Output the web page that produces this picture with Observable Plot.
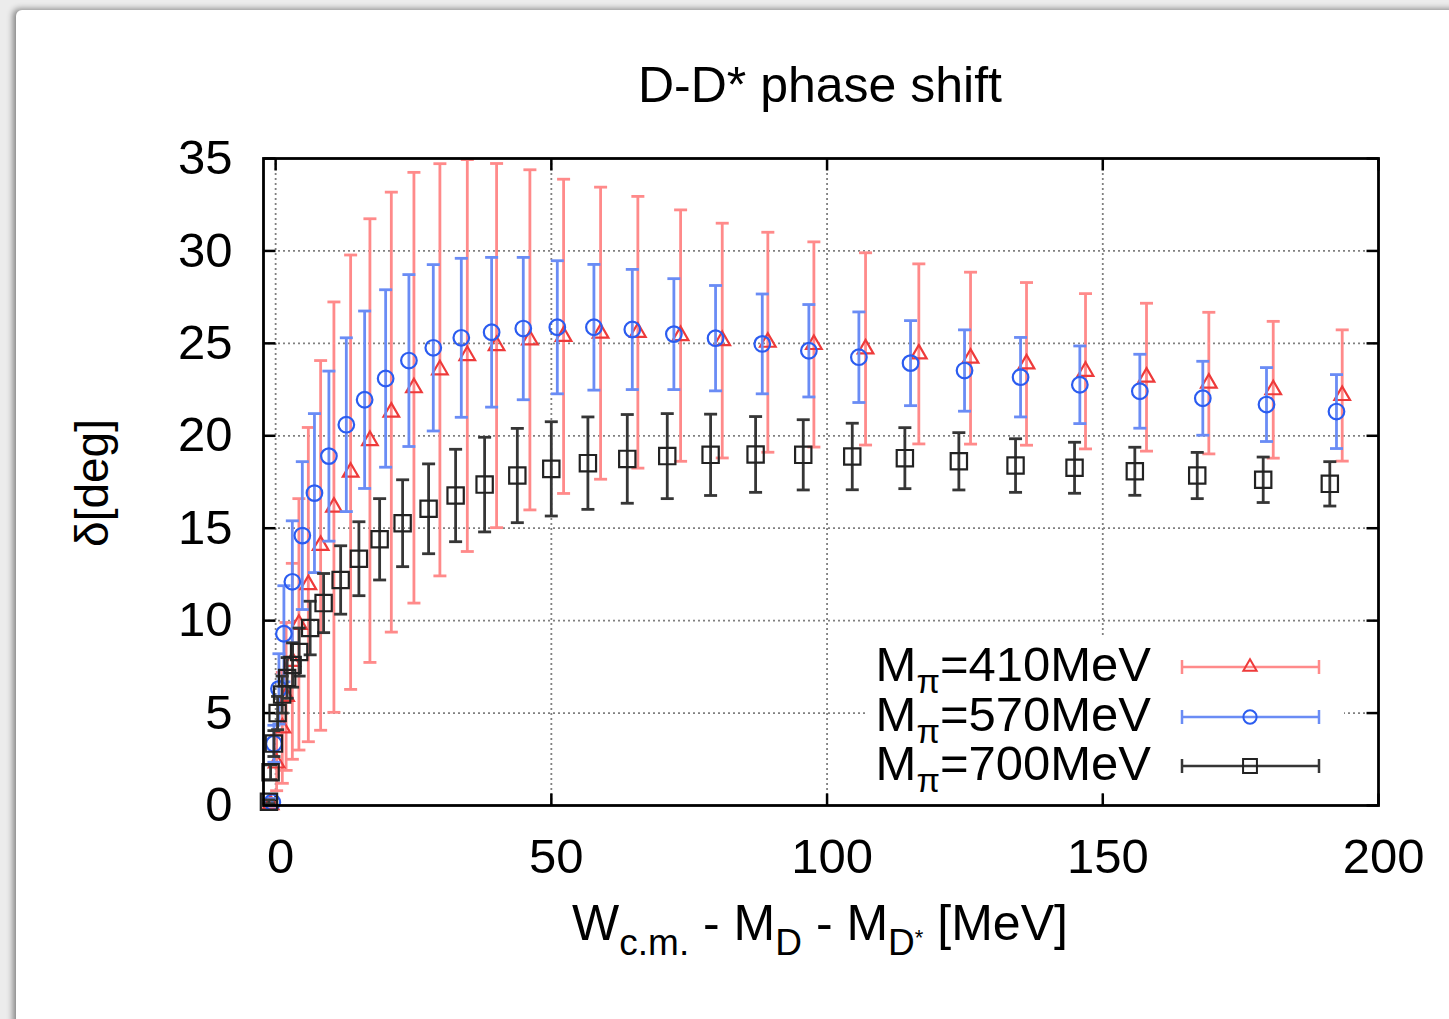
<!DOCTYPE html>
<html><head><meta charset="utf-8">
<script src="https://cdn.jsdelivr.net/npm/d3@7"></script>
<script src="https://cdn.jsdelivr.net/npm/@observablehq/plot@0.6"></script>
<style>
html,body{margin:0;padding:0;}
body{width:1449px;height:1019px;background:#ececec;position:relative;overflow:hidden;font-family:"Liberation Sans",Arial,Helvetica,sans-serif;}
#panel{position:absolute;left:16px;top:10px;width:1450px;height:1030px;background:#fff;border-top-left-radius:6px;box-shadow:-3px -1px 6px rgba(0,0,0,0.45);}
#chart{position:absolute;left:0;top:0;}
</style></head><body>
<div id="panel"></div>
<div id="chart"></div>
<script>
// ---- data ----
const xTicks = [0, 50, 100, 150, 200];
const yTicks = [0, 5, 10, 15, 20, 25, 30, 35];
const seriesNames = ["410", "570", "700"];

// M_pi = 410 MeV (red triangles)
const x410 = [-0.91, 0.18, 1.21, 1.90, 3.03, 4.22, 5.93, 8.16, 10.57, 13.60, 17.10, 20.98, 25.08, 29.79, 34.76, 40.07, 46.11, 52.22, 58.93, 65.69, 73.44, 80.99, 89.26, 97.61, 106.98, 116.64, 126.02, 136.17, 146.87, 157.93, 169.23, 180.91, 193.42];
const d410 = [0.05, 2.3, 4.2, 5.9, 7.8, 9.8, 11.95, 14.07, 16.14, 18.03, 19.74, 21.28, 22.6, 23.57, 24.34, 24.88, 25.19, 25.38, 25.55, 25.6, 25.42, 25.15, 25.06, 24.94, 24.7, 24.43, 24.2, 23.89, 23.49, 23.17, 22.85, 22.49, 22.18];
const e410 = [0.1, 1.5, 3.0, 4.0, 5.3, 6.8, 8.5, 10.0, 11.1, 11.75, 12.0, 11.9, 11.65, 11.15, 10.6, 9.85, 9.2, 8.5, 7.9, 7.35, 6.8, 6.35, 5.95, 5.55, 5.2, 4.87, 4.65, 4.4, 4.2, 4.0, 3.83, 3.7, 3.55];

// M_pi = 570 MeV (blue circles)
const x570 = [-0.60, -0.31, 0.60, 1.50, 3.03, 4.84, 7.04, 9.66, 12.82, 16.14, 19.95, 24.17, 28.59, 33.67, 39.17, 44.91, 51.08, 57.72, 64.68, 72.22, 79.78, 88.25, 96.70, 105.77, 115.14, 124.93, 135.09, 145.84, 156.72, 168.14, 179.69, 192.38];
const d570 = [0.18, 3.34, 6.31, 9.29, 12.1, 14.6, 16.9, 18.9, 20.6, 21.95, 23.1, 24.07, 24.76, 25.3, 25.6, 25.8, 25.87, 25.87, 25.75, 25.5, 25.28, 24.97, 24.6, 24.25, 23.93, 23.53, 23.17, 22.76, 22.41, 22.03, 21.69, 21.31];
const e570 = [0.2, 1.0, 1.9, 2.6, 3.3, 4.0, 4.3, 4.6, 4.7, 4.8, 4.8, 4.65, 4.5, 4.3, 4.05, 3.85, 3.6, 3.4, 3.25, 3.0, 2.85, 2.7, 2.5, 2.45, 2.3, 2.2, 2.15, 2.1, 2.0, 2.0, 2.0, 2.0];

// M_pi = 700 MeV (black squares)
const x700 = [-1.21, -0.91, -0.31, 0.36, 1.18, 2.09, 3.08, 4.26, 6.26, 8.70, 11.79, 15.10, 18.86, 23.03, 27.74, 32.64, 37.90, 43.83, 49.99, 56.63, 63.77, 71.02, 78.88, 87.04, 95.68, 104.57, 114.11, 123.90, 134.18, 144.88, 155.81, 167.13, 179.09, 191.17];
const d700 = [0.2, 1.8, 3.35, 5.0, 6.0, 6.9, 7.6, 8.3, 9.6, 10.95, 12.2, 13.35, 14.4, 15.27, 16.05, 16.77, 17.36, 17.85, 18.21, 18.52, 18.75, 18.9, 18.97, 18.99, 18.97, 18.88, 18.79, 18.62, 18.39, 18.27, 18.08, 17.85, 17.62, 17.4];
const e700 = [0.1, 0.4, 0.7, 0.9, 1.0, 1.1, 1.2, 1.3, 1.45, 1.6, 1.85, 2.0, 2.2, 2.35, 2.43, 2.5, 2.56, 2.55, 2.55, 2.5, 2.4, 2.3, 2.2, 2.05, 1.9, 1.8, 1.65, 1.55, 1.45, 1.38, 1.3, 1.25, 1.23, 1.2];

// ---- build rows ----
const rows = (xs, ys, es) => xs.map((x, i) => ({x, y: ys[i], lo: ys[i] - es[i], hi: ys[i] + es[i]}));
const r410 = rows(x410, d410, e410);
const r570 = rows(x570, d570, e570);
const r700 = rows(x700, d700, e700);

const styleOf = {
  "410": {bar: "#ff8a8a", mk: "#ee3a3a", symbol: "triangle", r: 5.8},
  "570": {bar: "#6a8cf5", mk: "#2b5cf0", symbol: "circle", r: 7.8},
  "700": {bar: "#363636", mk: "#222222", symbol: "square", r: 9.2}
};

const seg = (dx, dy) => ({draw(ctx) { ctx.moveTo(0, 0); ctx.lineTo(dx, dy); }});
const cap = {draw(ctx) { ctx.moveTo(-6.5, 0); ctx.lineTo(6.5, 0); }};

function errMarks(data, key) {
  const s = styleOf[key];
  return [
    Plot.ruleX(data, {x: "x", y1: "lo", y2: "hi", stroke: s.bar, strokeWidth: 2.8}),
    Plot.dot(data, {x: "x", y: "lo", symbol: cap, r: 5, stroke: s.bar, strokeWidth: 2.8}),
    Plot.dot(data, {x: "x", y: "hi", symbol: cap, r: 5, stroke: s.bar, strokeWidth: 2.8}),
    Plot.dot(data, {x: "x", y: "y", symbol: s.symbol, r: s.r, fill: "none", stroke: s.mk, strokeWidth: 2.2})
  ];
}

const gridDash = {stroke: "#808080", strokeOpacity: 1, strokeWidth: 1.8, strokeDasharray: "2,3"};

const svg = Plot.plot({
  width: 1449, height: 1019,
  marginLeft: 263, marginRight: 71, marginTop: 158, marginBottom: 214,
  style: {background: "transparent", fontFamily: "'Liberation Sans', Arial, Helvetica, sans-serif", fontSize: "48px", color: "#000", overflow: "visible"},
  x: {domain: [-2.2, 200]},
  y: {domain: [0, 35]},
  marks: [
    Plot.gridX({ticks: [0, 50, 100, 150], ...gridDash}),
    Plot.gridY({ticks: [5, 10, 15, 20, 25, 30], ...gridDash}),
    Plot.axisX({ticks: xTicks, tickSize: 0, tickPadding: 33, dx: 5, label: null, fontSize: 49}),
    Plot.axisY({ticks: yTicks, tickSize: 0, tickPadding: 31, label: null, fontSize: 49}),
    Plot.dot(yTicks, {y: d => d, frameAnchor: "left", symbol: seg(12, 0), r: 5, stroke: "#000", strokeWidth: 2.5}),
    Plot.dot(yTicks, {y: d => d, frameAnchor: "right", symbol: seg(-12, 0), r: 5, stroke: "#000", strokeWidth: 2.5}),
    Plot.dot(xTicks, {x: d => d, frameAnchor: "bottom", symbol: seg(0, -12), r: 5, stroke: "#000", strokeWidth: 2.5}),
    Plot.dot(xTicks, {x: d => d, frameAnchor: "top", symbol: seg(0, 12), r: 5, stroke: "#000", strokeWidth: 2.5}),
    ...errMarks(r410, "410"),
    ...errMarks(r570, "570"),
    ...errMarks(r700, "700"),
    Plot.frame({stroke: "#000", strokeWidth: 2.8})
  ]
});
document.getElementById("chart").appendChild(svg);

// ---- annotations: title, axis labels, legend ----
const S = d3.select(svg);
const FF = "'Liberation Sans', Arial, Helvetica, sans-serif";

S.append("text").attr("x", 820).attr("y", 102).attr("text-anchor", "middle")
  .attr("font-family", FF).attr("font-size", 50).attr("fill", "#000").text("D-D* phase shift");

const xl = S.append("text").attr("x", 820).attr("y", 940).attr("text-anchor", "middle")
  .attr("font-family", FF).attr("font-size", 50).attr("fill", "#000");
xl.append("tspan").text("W");
xl.append("tspan").attr("font-size", 37).attr("dy", 15).text("c.m.");
xl.append("tspan").attr("dy", -15).text(" - M");
xl.append("tspan").attr("font-size", 37).attr("dy", 15).text("D");
xl.append("tspan").attr("dy", -15).text(" - M");
xl.append("tspan").attr("font-size", 37).attr("dy", 15).text("D");
xl.append("tspan").attr("font-size", 22).attr("dy", -10).text("*");
xl.append("tspan").attr("dy", -5).text(" [MeV]");

S.append("text").attr("transform", "translate(108,483) rotate(-90)").attr("text-anchor", "middle")
  .attr("font-family", FF).attr("font-size", 46).attr("fill", "#000").text("δ[deg]");

// legend box (opaque, as in gnuplot key)
S.append("rect").attr("x", 868).attr("y", 638).attr("width", 476).attr("height", 154).attr("fill", "#fff");

const legY = [667, 717, 766];
seriesNames.forEach((k, i) => {
  const s = styleOf[k];
  const y = legY[i];
  const t = S.append("text").attr("x", 1151).attr("y", y + 14).attr("text-anchor", "end")
    .attr("font-family", FF).attr("font-size", 49).attr("fill", "#000");
  t.append("tspan").text("M");
  t.append("tspan").attr("font-size", 34).attr("dy", 12).text("π");
  t.append("tspan").attr("dy", -12).text("=" + k + "MeV");
  S.append("line").attr("x1", 1182).attr("x2", 1319).attr("y1", y).attr("y2", y)
    .attr("stroke", s.bar).attr("stroke-width", 2.5);
  [1182, 1319].forEach(cx => S.append("line").attr("x1", cx).attr("x2", cx)
    .attr("y1", y - 7).attr("y2", y + 7).attr("stroke", s.bar).attr("stroke-width", 2.5));
  const sym = {triangle: d3.symbolTriangle, circle: d3.symbolCircle, square: d3.symbolSquare}[s.symbol];
  const rr = s.r * 0.85;
  S.append("path").attr("transform", `translate(1250,${y})`)
    .attr("d", d3.symbol(sym, Math.PI * rr * rr)())
    .attr("fill", "none").attr("stroke", s.mk).attr("stroke-width", 2);
});
</script>
</body></html>
